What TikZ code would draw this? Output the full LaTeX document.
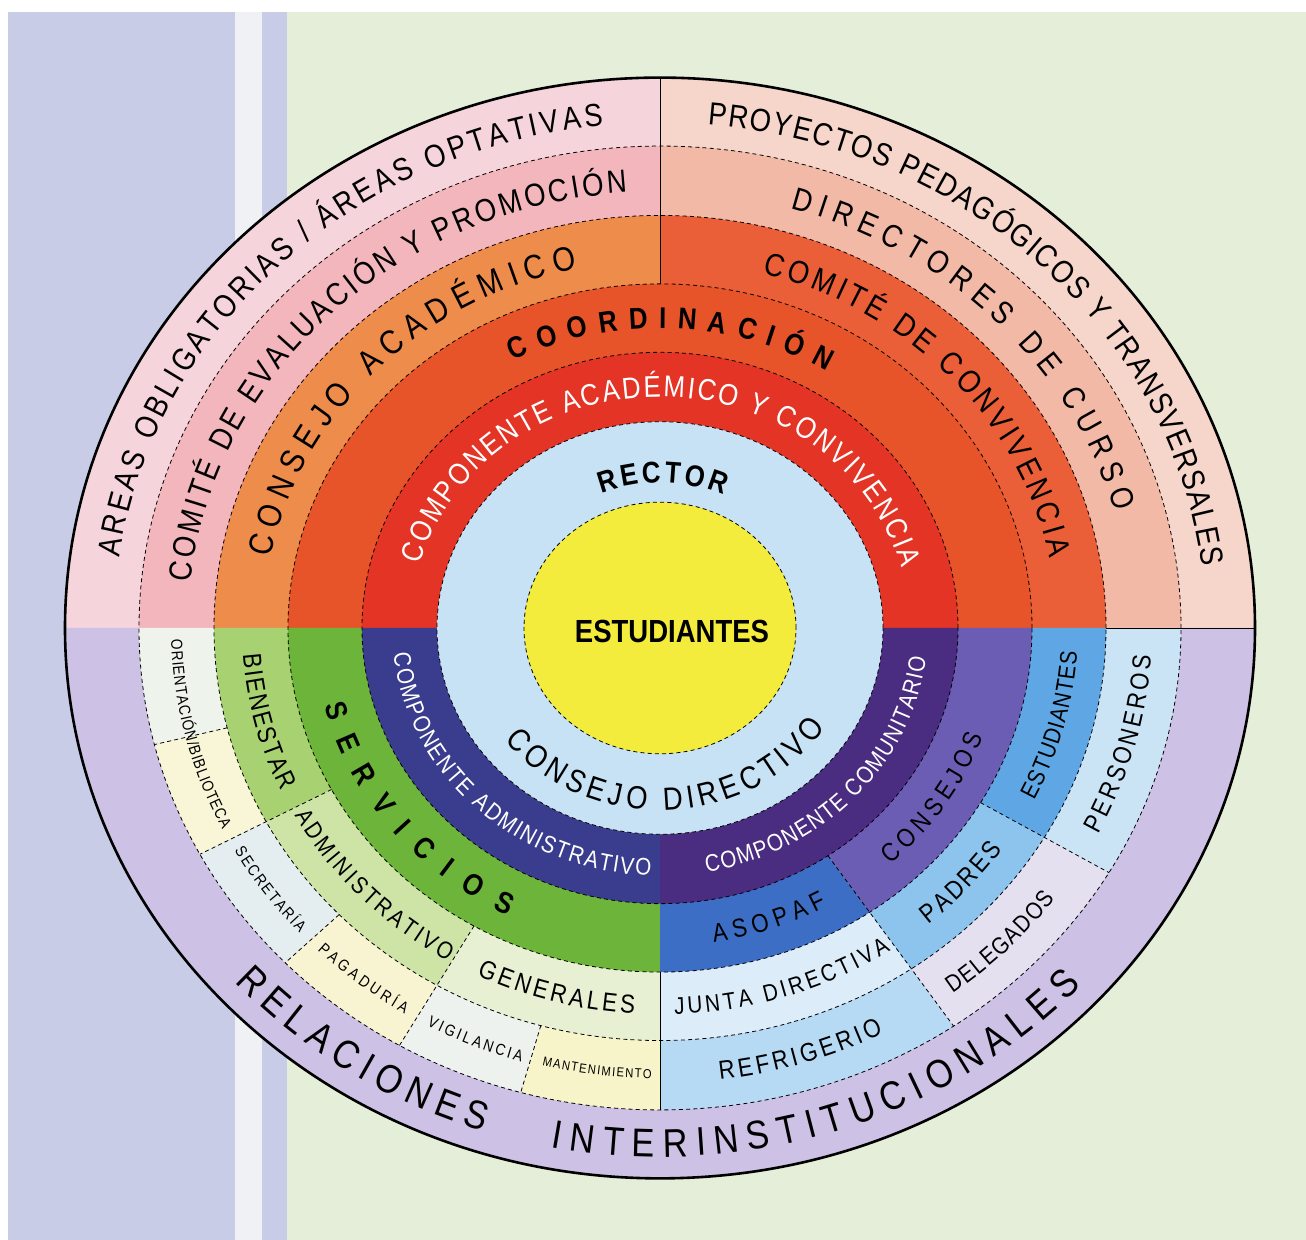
\documentclass[tikz,border=0pt]{standalone}
\usepackage{fontspec}
\setmainfont{Liberation Sans}[FakeStretch=0.86]
\usetikzlibrary{decorations.text}

\definecolor{bgGreen}{HTML}{E4EED8}
\definecolor{bgLilac}{HTML}{C9CCE6}
\definecolor{bgPale}{HTML}{EFF1F4}
\definecolor{areasPink}{HTML}{F6D4DC}
\definecolor{evalPink}{HTML}{F2B6BC}
\definecolor{acadOrange}{HTML}{EE8C4C}
\definecolor{proyPeach}{HTML}{F6D6CA}
\definecolor{dirSalmon}{HTML}{F2B9A6}
\definecolor{convRed}{HTML}{EA5E38}
\definecolor{coordRed}{HTML}{E8542A}
\definecolor{compRed}{HTML}{E33426}
\definecolor{rectorBlue}{HTML}{C6E2F4}
\definecolor{studYellow}{HTML}{F4EC3C}
\definecolor{adminNavy}{HTML}{3A3D8E}
\definecolor{comunPurple}{HTML}{4A2C80}
\definecolor{servGreen}{HTML}{6CB43A}
\definecolor{bienGreen}{HTML}{A8D172}
\definecolor{admGreen}{HTML}{CDE4A6}
\definecolor{generPale}{HTML}{E7F0D2}
\definecolor{orientWhite}{HTML}{EEF4EC}
\definecolor{biblioYellow}{HTML}{F8F6D6}
\definecolor{secreBlue}{HTML}{E4EEF0}
\definecolor{pagaYellow}{HTML}{F8F4D2}
\definecolor{vigiWhite}{HTML}{EEF2EE}
\definecolor{mantYellow}{HTML}{F8F4CA}
\definecolor{asopafBlue}{HTML}{3C6EC6}
\definecolor{consejosViolet}{HTML}{6C5DB4}
\definecolor{juntaBlue}{HTML}{DCECF8}
\definecolor{padresBlue}{HTML}{8CC4EE}
\definecolor{estBlue}{HTML}{5EA6E4}
\definecolor{refriBlue}{HTML}{B6D9F4}
\definecolor{delegLilac}{HTML}{E4E0F0}
\definecolor{persoBlue}{HTML}{CAE4F6}
\definecolor{relLilac}{HTML}{CDC1E5}

\newcommand{\ringfont}[1]{\fontsize{#1}{#1}\selectfont}

\begin{document}
\begin{tikzpicture}[x=0.5pt, y=0.5pt,
  ringline/.style={draw=black, line width=0.4pt, dash pattern=on 2pt off 1.6pt},
  segline/.style={draw=black, line width=0.45pt},
  arctext/.style={decorate, decoration={text along path, text align=fit to path, text={#1}}},
  arcwhite/.style={decorate, decoration={text along path, text align=fit to path, text color=white, text={#1}}}]
\useasboundingbox (0,0) rectangle (1306,1240);

% paper
\fill[white] (0,0) rectangle (1306,1240);
\fill[bgGreen] (8,0) rectangle (1306,1228);
\fill[bgLilac] (8,0) rectangle (235,1228);
\fill[bgPale] (235,0) rectangle (262,1228);
\fill[bgLilac] (262,0) rectangle (287,1228);

\begin{scope}[shift={(660,612)}, yscale=0.925]
% outer ring
\fill[areasPink] (0,0) -- (90:595) arc[start angle=90, end angle=180, radius=595] -- cycle;
\fill[proyPeach] (0,0) -- (0:595) arc[start angle=0, end angle=90, radius=595] -- cycle;
\fill[relLilac] (0,0) -- (180:595) arc[start angle=180, end angle=360, radius=595] -- cycle;
% second ring
\fill[evalPink] (0,0) -- (90:521) arc[start angle=90, end angle=180, radius=521] -- cycle;
\fill[dirSalmon] (0,0) -- (0:521) arc[start angle=0, end angle=90, radius=521] -- cycle;
\fill[orientWhite] (0,0) -- (180:521) arc[start angle=180, end angle=194, radius=521] -- cycle;
\fill[biblioYellow] (0,0) -- (194:521) arc[start angle=194, end angle=208, radius=521] -- cycle;
\fill[secreBlue] (0,0) -- (208:521) arc[start angle=208, end angle=224, radius=521] -- cycle;
\fill[pagaYellow] (0,0) -- (224:521) arc[start angle=224, end angle=240, radius=521] -- cycle;
\fill[vigiWhite] (0,0) -- (240:521) arc[start angle=240, end angle=254.5, radius=521] -- cycle;
\fill[mantYellow] (0,0) -- (254.5:521) arc[start angle=254.5, end angle=270, radius=521] -- cycle;
\fill[refriBlue] (0,0) -- (270:521) arc[start angle=270, end angle=304.3, radius=521] -- cycle;
\fill[delegLilac] (0,0) -- (304.3:521) arc[start angle=304.3, end angle=329.5, radius=521] -- cycle;
\fill[persoBlue] (0,0) -- (329.5:521) arc[start angle=329.5, end angle=360, radius=521] -- cycle;
% third ring
\fill[acadOrange] (0,0) -- (90:446) arc[start angle=90, end angle=180, radius=446] -- cycle;
\fill[convRed] (0,0) -- (0:446) arc[start angle=0, end angle=90, radius=446] -- cycle;
\fill[bienGreen] (0,0) -- (180:446) arc[start angle=180, end angle=208, radius=446] -- cycle;
\fill[admGreen] (0,0) -- (208:446) arc[start angle=208, end angle=240, radius=446] -- cycle;
\fill[generPale] (0,0) -- (240:446) arc[start angle=240, end angle=270, radius=446] -- cycle;
\fill[juntaBlue] (0,0) -- (270:446) arc[start angle=270, end angle=304.3, radius=446] -- cycle;
\fill[padresBlue] (0,0) -- (304.3:446) arc[start angle=304.3, end angle=329.5, radius=446] -- cycle;
\fill[estBlue] (0,0) -- (329.5:446) arc[start angle=329.5, end angle=360, radius=446] -- cycle;
% fourth ring
\fill[coordRed] (0,0) -- (0:372) arc[start angle=0, end angle=180, radius=372] -- cycle;
\fill[servGreen] (0,0) -- (180:372) arc[start angle=180, end angle=270, radius=372] -- cycle;
\fill[asopafBlue] (0,0) -- (270:372) arc[start angle=270, end angle=304.3, radius=372] -- cycle;
\fill[consejosViolet] (0,0) -- (304.3:372) arc[start angle=304.3, end angle=360, radius=372] -- cycle;
% componentes
\fill[compRed] (0,0) -- (0:298) arc[start angle=0, end angle=180, radius=298] -- cycle;
\fill[adminNavy] (0,0) -- (180:298) arc[start angle=180, end angle=270, radius=298] -- cycle;
\fill[comunPurple] (0,0) -- (270:298) arc[start angle=270, end angle=360, radius=298] -- cycle;
% rector / consejo directivo and students
\fill[rectorBlue] (0,0) circle[radius=223];
\fill[studYellow] (0,0) circle[radius=136];

% borders
\draw[ringline] (0,0) circle[radius=136];
\draw[ringline] (0,0) circle[radius=223];
\draw[ringline] (0,0) circle[radius=298];
\draw[ringline] (0,0) circle[radius=372];
\draw[ringline] (0,0) circle[radius=446];
\draw[ringline] (0,0) circle[radius=521];
\draw[segline] (90:372) -- (90:595);
\draw[segline] (0:446) -- (0:595);
\draw[segline] (270:372) -- (270:521);
\draw[ringline] (194:446) -- (194:521);
\draw[ringline] (208:372) -- (208:521);
\draw[ringline] (224:446) -- (224:521);
\draw[ringline] (240:372) -- (240:521);
\draw[ringline] (254.5:446) -- (254.5:521);
\draw[ringline] (304.3:298) -- (304.3:521);
\draw[ringline] (329.5:372) -- (329.5:521);
\draw[line width=1.3pt] (0,0) circle[radius=595];

% texts, upper half
\path[arctext={|\ringfont{16}|AREAS OBLIGATORIAS / ÁREAS OPTATIVAS}] (172:546) arc[start angle=172, end angle=96, radius=546];
\path[arctext={|\ringfont{16}|PROYECTOS PEDAGÓGICOS Y TRANSVERSALES}] (85:546) arc[start angle=85, end angle=7, radius=546];
\path[arctext={|\ringfont{16}|COMITÉ DE EVALUACIÓN Y PROMOCIÓN}] (174:472) arc[start angle=174, end angle=94, radius=472];
\path[arctext={|\ringfont{16}|DIRECTORES DE CURSO}] (74:472) arc[start angle=74, end angle=15.5, radius=472];
\path[arctext={|\ringfont{17}|CONSEJO ACADÉMICO}] (169:397) arc[start angle=169, end angle=102, radius=397];
\path[arctext={|\ringfont{16}|COMITÉ DE CONVIVENCIA}] (75:397) arc[start angle=75, end angle=11, radius=397];
\path[arctext={|\ringfont{15}\bfseries|COORDINACIÓN}] (117:324) arc[start angle=117, end angle=59, radius=324];
\path[arcwhite={|\ringfont{15}|COMPONENTE ACADÉMICO Y CONVIVENCIA}] (164:250) arc[start angle=164, end angle=15, radius=250];
\path[arctext={|\ringfont{15}\bfseries|RECTOR}] (112:157) arc[start angle=112, end angle=66, radius=157];

% texts, lower half
\path[arctext={|\ringfont{16}|CONSEJO DIRECTIVO}] (218:197) arc[start angle=218, end angle=327, radius=197];
\path[arcwhite={|\ringfont{12}|COMPONENTE ADMINISTRATIVO}] (186:268) arc[start angle=186, end angle=268, radius=268];
\path[arcwhite={|\ringfont{12}|COMPONENTE COMUNITARIO}] (280:268) arc[start angle=280, end angle=353, radius=268];
\path[arctext={|\ringfont{15}\bfseries|SERVICIOS}] (194:346) arc[start angle=194, end angle=244, radius=346];
\path[arctext={|\ringfont{13}|ASOPAF}] (279:344) arc[start angle=279, end angle=299, radius=344];
\path[arctext={|\ringfont{13}|CONSEJOS}] (312:344) arc[start angle=312, end angle=340, radius=344];
\path[arctext={|\ringfont{13}|BIENESTAR}] (184:418) arc[start angle=184, end angle=205, radius=418];
\path[arctext={|\ringfont{12}|ADMINISTRATIVO}] (209:418) arc[start angle=209, end angle=239.5, radius=418];
\path[arctext={|\ringfont{13}|GENERALES}] (244:418) arc[start angle=244, end angle=266.5, radius=418];
\path[arctext={|\ringfont{12}|JUNTA DIRECTIVA}] (272:418) arc[start angle=272, end angle=303.5, radius=418];
\path[arctext={|\ringfont{13}|PADRES}] (310:418) arc[start angle=310, end angle=325, radius=418];
\path[arctext={|\ringfont{12}|ESTUDIANTES}] (333.5:418) arc[start angle=333.5, end angle=356.5, radius=418];
\path[arctext={|\ringfont{8}|ORIENTACIÓN/BIBLIOTECA}] (181.5:489) arc[start angle=181.5, end angle=206.5, radius=489];
\path[arctext={|\ringfont{8}|SECRETARÍA}] (209.5:489) arc[start angle=209.5, end angle=222.5, radius=489];
\path[arctext={|\ringfont{8}|PAGADURÍA}] (225.5:489) arc[start angle=225.5, end angle=238.5, radius=489];
\path[arctext={|\ringfont{8}|VIGILANCIA}] (241.5:489) arc[start angle=241.5, end angle=253.5, radius=489];
\path[arctext={|\ringfont{6.5}|MANTENIMIENTO}] (256:487) arc[start angle=256, end angle=269, radius=487];
\path[arctext={|\ringfont{13}|REFRIGERIO}] (277:492) arc[start angle=277, end angle=297, radius=492];
\path[arctext={|\ringfont{12}|DELEGADOS}] (306.5:492) arc[start angle=306.5, end angle=323.5, radius=492];
\path[arctext={|\ringfont{13}|PERSONEROS}] (333:492) arc[start angle=333, end angle=356.5, radius=492];
\path[arctext={|\ringfont{20}|RELACIONES}] (222:572) arc[start angle=222, end angle=252, radius=572];
\path[arctext={|\ringfont{20}|INTERINSTITUCIONALES}] (259:572) arc[start angle=259, end angle=317.5, radius=572];

\node[font=\ringfont{16}\bfseries, inner sep=0pt] (estudiantes) at (12,-4) {ESTUDIANTES};
\end{scope}
\end{tikzpicture}
\end{document}
